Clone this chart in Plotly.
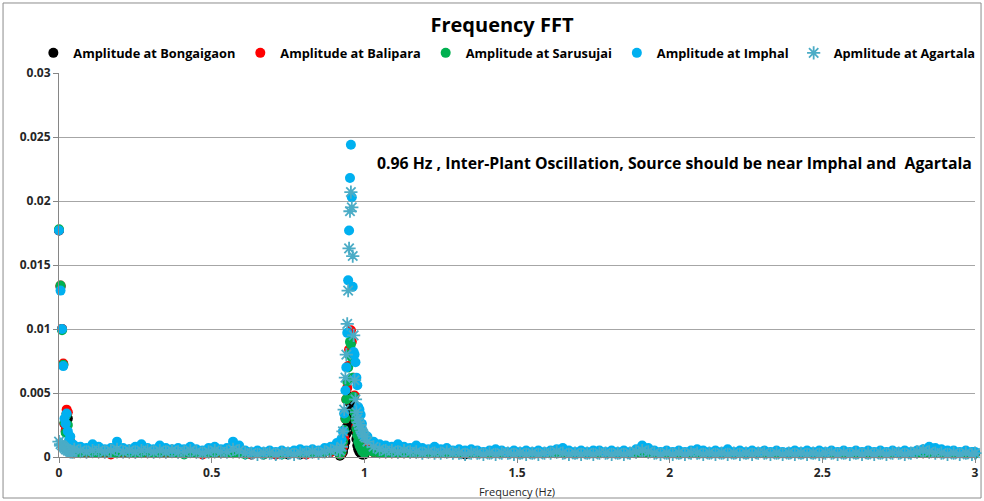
import plotly.graph_objects as go

# ---------------- data ----------------
freq_low = [0.000, 0.005, 0.010, 0.014, 0.018, 0.022, 0.025, 0.029, 0.033, 0.037, 0.041, 0.045]
freq_mid = [0.05, 0.07, 0.09, 0.11, 0.13, 0.15, 0.17, 0.19, 0.21, 0.23,
            0.25, 0.27, 0.29, 0.31, 0.33, 0.35, 0.37, 0.39, 0.41, 0.43,
            0.45, 0.47, 0.49, 0.51, 0.53, 0.55, 0.57, 0.59, 0.61, 0.63,
            0.65, 0.67, 0.69, 0.71, 0.73, 0.75, 0.77, 0.79, 0.81, 0.83,
            0.85, 0.87, 0.89, 0.91]
freq_peak = [0.920, 0.925, 0.930, 0.934, 0.938, 0.941, 0.944, 0.947, 0.950, 0.953,
             0.956, 0.959, 0.962, 0.965, 0.968, 0.971, 0.974, 0.977, 0.980, 0.984,
             0.988, 0.992, 0.996, 1.000]
freq_high = [1.01, 1.03, 1.05, 1.07, 1.09, 1.11, 1.13, 1.15, 1.17, 1.19,
             1.21, 1.23, 1.25, 1.27, 1.29, 1.31, 1.33, 1.35, 1.37, 1.39,
             1.41, 1.43, 1.45, 1.47, 1.49, 1.51, 1.53, 1.55, 1.57, 1.59,
             1.61, 1.63, 1.65, 1.67, 1.69, 1.71, 1.73, 1.75, 1.77, 1.79,
             1.81, 1.83, 1.85, 1.87, 1.89, 1.91, 1.93, 1.95, 1.97, 1.99,
             2.01, 2.03, 2.05, 2.07, 2.09, 2.11, 2.13, 2.15, 2.17, 2.19,
             2.21, 2.23, 2.25, 2.27, 2.29, 2.31, 2.33, 2.35, 2.37, 2.39,
             2.41, 2.43, 2.45, 2.47, 2.49, 2.51, 2.53, 2.55, 2.57, 2.59,
             2.61, 2.63, 2.65, 2.67, 2.69, 2.71, 2.73, 2.75, 2.77, 2.79,
             2.81, 2.83, 2.85, 2.87, 2.89, 2.91, 2.93, 2.95, 2.97, 2.99,
             3.00]
freq = freq_low + freq_mid + freq_peak + freq_high

bongaigaon = (
    [0.0177, 0.0133, 0.0100, 0.0072, 0.0026, 0.0020, 0.0034, 0.0030, 0.0006, 0.0009, 0.0004, 0.0003]
    + [0.0003, 0.0004, 0.0003, 0.0004, 0.0003, 0.0003, 0.0004, 0.0003, 0.0004, 0.0003,
       0.0003, 0.0004, 0.0003, 0.0003, 0.0004, 0.0003, 0.0004, 0.0003, 0.0003, 0.0004,
       0.0003, 0.0003, 0.0004, 0.0003, 0.0003, 0.0004, 0.0003, 0.0003, 0.0003, 0.0002,
       0.0003, 0.0002, 0.0003, 0.0002, 0.0003, 0.0002, 0.0003, 0.0002, 0.0003, 0.0003,
       0.0003, 0.0004, 0.0004, 0.0005]
    + [0.0001, 0.0002, 0.0004, 0.0008, 0.0012, 0.0018, 0.0024, 0.0030, 0.0036, 0.0042,
       0.0047, 0.0045, 0.0040, 0.0033, 0.0027, 0.0020, 0.0014, 0.0009, 0.0006, 0.0004,
       0.0003, 0.0002, 0.0002, 0.0002]
    + [0.0005, 0.0004, 0.0003, 0.0003, 0.0003, 0.0003, 0.0003, 0.0003, 0.0003, 0.0003,
       0.0003, 0.0003, 0.0003, 0.0003, 0.0003, 0.0003, 0.0002, 0.0003, 0.0003, 0.0003,
       0.0003, 0.0003, 0.0003, 0.0003, 0.0003, 0.0003, 0.0003, 0.0003, 0.0003, 0.0003,
       0.0003, 0.0003, 0.0003, 0.0003, 0.0003, 0.0003, 0.0003, 0.0003, 0.0003, 0.0003,
       0.0003, 0.0003, 0.0003, 0.0003, 0.0003, 0.0004, 0.0003, 0.0003, 0.0003, 0.0003,
       0.0003, 0.0003, 0.0003, 0.0003, 0.0003, 0.0003, 0.0003, 0.0003, 0.0003, 0.0003,
       0.0003, 0.0003, 0.0003, 0.0003, 0.0003, 0.0003, 0.0003, 0.0003, 0.0003, 0.0003,
       0.0003, 0.0003, 0.0003, 0.0003, 0.0003, 0.0003, 0.0003, 0.0003, 0.0003, 0.0003,
       0.0003, 0.0003, 0.0003, 0.0003, 0.0003, 0.0003, 0.0003, 0.0003, 0.0003, 0.0003,
       0.0003, 0.0003, 0.0003, 0.0003, 0.0003, 0.0003, 0.0003, 0.0003, 0.0003, 0.0003,
       0.0003]
)

balipara = (
    [0.0177, 0.0134, 0.0100, 0.0073, 0.0026, 0.0021, 0.0037, 0.0035, 0.0007, 0.0012, 0.0006, 0.0005]
    + [0.0003, 0.0004, 0.0003, 0.0004, 0.0003, 0.0003, 0.0002, 0.0004, 0.0003, 0.0003,
       0.0003, 0.0004, 0.0003, 0.0004, 0.0003, 0.0003, 0.0004, 0.0003, 0.0003, 0.0004,
       0.0003, 0.0002, 0.0003, 0.0004, 0.0003, 0.0003, 0.0004, 0.0003, 0.0003, 0.0002,
       0.0003, 0.0003, 0.0003, 0.0002, 0.0003, 0.0003, 0.0003, 0.0003, 0.0002, 0.0003,
       0.0003, 0.0004, 0.0004, 0.0005]
    + [0.0002, 0.0003, 0.0008, 0.0015, 0.0030, 0.0045, 0.0054, 0.0071, 0.0084, 0.0098,
       0.0099, 0.0090, 0.0080, 0.0062, 0.0048, 0.0035, 0.0024, 0.0020, 0.0016, 0.0012,
       0.0009, 0.0007, 0.0005, 0.0004]
    + [0.0006, 0.0004, 0.0004, 0.0003, 0.0003, 0.0003, 0.0003, 0.0003, 0.0003, 0.0003,
       0.0003, 0.0003, 0.0003, 0.0003, 0.0003, 0.0003, 0.0003, 0.0003, 0.0003, 0.0003,
       0.0003, 0.0003, 0.0003, 0.0003, 0.0003, 0.0003, 0.0003, 0.0003, 0.0003, 0.0003,
       0.0003, 0.0003, 0.0003, 0.0003, 0.0003, 0.0003, 0.0003, 0.0003, 0.0003, 0.0003,
       0.0003, 0.0003, 0.0003, 0.0003, 0.0003, 0.0004, 0.0003, 0.0003, 0.0003, 0.0003,
       0.0003, 0.0003, 0.0003, 0.0003, 0.0003, 0.0003, 0.0003, 0.0003, 0.0003, 0.0003,
       0.0003, 0.0003, 0.0003, 0.0003, 0.0003, 0.0003, 0.0003, 0.0003, 0.0003, 0.0003,
       0.0003, 0.0003, 0.0003, 0.0003, 0.0003, 0.0003, 0.0003, 0.0003, 0.0003, 0.0003,
       0.0003, 0.0003, 0.0003, 0.0003, 0.0003, 0.0003, 0.0003, 0.0003, 0.0003, 0.0003,
       0.0003, 0.0003, 0.0003, 0.0003, 0.0003, 0.0003, 0.0003, 0.0003, 0.0003, 0.0003,
       0.0003]
)

sarusujai = (
    [0.0178, 0.0134, 0.0099, 0.0072, 0.0027, 0.0019, 0.0033, 0.0025, 0.0007, 0.0010, 0.0005, 0.0004]
    + [0.0003, 0.0003, 0.0004, 0.0003, 0.0003, 0.0004, 0.0003, 0.0003, 0.0004, 0.0003,
       0.0003, 0.0003, 0.0004, 0.0003, 0.0003, 0.0004, 0.0003, 0.0003, 0.0002, 0.0003,
       0.0003, 0.0003, 0.0003, 0.0003, 0.0004, 0.0003, 0.0003, 0.0003, 0.0002, 0.0003,
       0.0003, 0.0002, 0.0003, 0.0003, 0.0002, 0.0003, 0.0003, 0.0003, 0.0003, 0.0003,
       0.0003, 0.0004, 0.0005, 0.0006]
    + [0.0002, 0.0004, 0.0012, 0.0021, 0.0030, 0.0045, 0.0059, 0.0070, 0.0080, 0.0090,
       0.0088, 0.0078, 0.0062, 0.0047, 0.0035, 0.0029, 0.0022, 0.0017, 0.0012, 0.0009,
       0.0007, 0.0005, 0.0004, 0.0003]
    + [0.0005, 0.0004, 0.0003, 0.0003, 0.0003, 0.0003, 0.0003, 0.0003, 0.0003, 0.0003,
       0.0003, 0.0003, 0.0003, 0.0003, 0.0003, 0.0003, 0.0003, 0.0003, 0.0003, 0.0003,
       0.0003, 0.0003, 0.0003, 0.0003, 0.0003, 0.0003, 0.0003, 0.0003, 0.0003, 0.0003,
       0.0003, 0.0003, 0.0003, 0.0003, 0.0003, 0.0003, 0.0003, 0.0003, 0.0003, 0.0003,
       0.0003, 0.0003, 0.0003, 0.0003, 0.0003, 0.0004, 0.0003, 0.0003, 0.0003, 0.0003,
       0.0003, 0.0003, 0.0003, 0.0003, 0.0003, 0.0003, 0.0003, 0.0003, 0.0003, 0.0003,
       0.0003, 0.0003, 0.0003, 0.0003, 0.0003, 0.0003, 0.0003, 0.0003, 0.0003, 0.0003,
       0.0003, 0.0003, 0.0003, 0.0003, 0.0003, 0.0003, 0.0003, 0.0003, 0.0003, 0.0003,
       0.0003, 0.0003, 0.0003, 0.0003, 0.0003, 0.0003, 0.0003, 0.0003, 0.0003, 0.0003,
       0.0003, 0.0003, 0.0003, 0.0003, 0.0003, 0.0003, 0.0003, 0.0003, 0.0003, 0.0003,
       0.0003]
)

imphal = (
    [0.0177, 0.0130, 0.0100, 0.0071, 0.0030, 0.0026, 0.0034, 0.0020, 0.0013, 0.0016, 0.0009, 0.0010]
    + [0.0009, 0.0008, 0.0007, 0.0010, 0.0008, 0.0006, 0.0007, 0.0012, 0.0007, 0.0006,
       0.0008, 0.0010, 0.0007, 0.0006, 0.0009, 0.0007, 0.0006, 0.0007, 0.0006, 0.0008,
       0.0006, 0.0005, 0.0007, 0.0008, 0.0006, 0.0007, 0.0012, 0.0009, 0.0005, 0.0004,
       0.0005, 0.0004, 0.0005, 0.0004, 0.0005, 0.0004, 0.0005, 0.0006, 0.0005, 0.0006,
       0.0005, 0.0007, 0.0008, 0.0011]
    + [0.0011, 0.0014, 0.0020, 0.0034, 0.0052, 0.0070, 0.0097, 0.0138, 0.0177, 0.0218,
       0.0244, 0.0203, 0.0133, 0.0082, 0.0080, 0.0074, 0.0062, 0.0056, 0.0039, 0.0037,
       0.0033, 0.0026, 0.0019, 0.0016]
    + [0.0016, 0.0012, 0.0010, 0.0009, 0.0008, 0.0010, 0.0008, 0.0007, 0.0009, 0.0007,
       0.0006, 0.0008, 0.0006, 0.0007, 0.0005, 0.0006, 0.0005, 0.0006, 0.0005, 0.0004,
       0.0005, 0.0006, 0.0005, 0.0004, 0.0005, 0.0004, 0.0005, 0.0004, 0.0005, 0.0004,
       0.0005, 0.0006, 0.0007, 0.0005, 0.0004, 0.0005, 0.0004, 0.0005, 0.0005, 0.0004,
       0.0005, 0.0004, 0.0005, 0.0004, 0.0006, 0.0009, 0.0007, 0.0005, 0.0004, 0.0005,
       0.0004, 0.0005, 0.0004, 0.0005, 0.0006, 0.0005, 0.0004, 0.0005, 0.0004, 0.0006,
       0.0004, 0.0005, 0.0004, 0.0005, 0.0004, 0.0005, 0.0004, 0.0005, 0.0004, 0.0004,
       0.0005, 0.0004, 0.0005, 0.0004, 0.0005, 0.0004, 0.0005, 0.0004, 0.0005, 0.0004,
       0.0005, 0.0004, 0.0005, 0.0004, 0.0005, 0.0004, 0.0005, 0.0004, 0.0005, 0.0004,
       0.0005, 0.0006, 0.0008, 0.0007, 0.0006, 0.0005, 0.0005, 0.0004, 0.0005, 0.0004,
       0.0004]
)

agartala = (
    [0.0012, 0.0010, 0.0009, 0.0008, 0.0007, 0.0006, 0.0006, 0.0005, 0.0005, 0.0004, 0.0004, 0.0004]
    + [0.0006, 0.0005, 0.0004, 0.0005, 0.0005, 0.0004, 0.0005, 0.0006, 0.0004, 0.0005,
       0.0004, 0.0005, 0.0005, 0.0004, 0.0005, 0.0004, 0.0005, 0.0004, 0.0004, 0.0005,
       0.0004, 0.0003, 0.0004, 0.0005, 0.0004, 0.0004, 0.0006, 0.0005, 0.0003, 0.0003,
       0.0002, 0.0003, 0.0003, 0.0002, 0.0003, 0.0003, 0.0002, 0.0003, 0.0003, 0.0004,
       0.0003, 0.0004, 0.0005, 0.0006]
    + [0.0005, 0.0008, 0.0020, 0.0037, 0.0062, 0.0080, 0.0104, 0.0130, 0.0163, 0.0192,
       0.0207, 0.0195, 0.0157, 0.0095, 0.0060, 0.0045, 0.0035, 0.0030, 0.0027, 0.0025,
       0.0022, 0.0020, 0.0018, 0.0016]
    + [0.0012, 0.0008, 0.0006, 0.0005, 0.0005, 0.0004, 0.0005, 0.0004, 0.0004, 0.0003,
       0.0004, 0.0003, 0.0003, 0.0004, 0.0003, 0.0003, 0.0002, 0.0003, 0.0003, 0.0002,
       0.0003, 0.0002, 0.0003, 0.0003, 0.0002, 0.0003, 0.0002, 0.0003, 0.0002, 0.0003,
       0.0003, 0.0004, 0.0003, 0.0002, 0.0003, 0.0002, 0.0003, 0.0002, 0.0003, 0.0003,
       0.0002, 0.0003, 0.0002, 0.0003, 0.0004, 0.0005, 0.0004, 0.0003, 0.0002, 0.0003,
       0.0002, 0.0003, 0.0002, 0.0003, 0.0003, 0.0002, 0.0003, 0.0002, 0.0003, 0.0002,
       0.0003, 0.0002, 0.0003, 0.0002, 0.0003, 0.0003, 0.0002, 0.0003, 0.0002, 0.0003,
       0.0002, 0.0003, 0.0002, 0.0003, 0.0002, 0.0003, 0.0003, 0.0002, 0.0003, 0.0002,
       0.0003, 0.0002, 0.0003, 0.0002, 0.0003, 0.0002, 0.0003, 0.0003, 0.0002, 0.0003,
       0.0004, 0.0005, 0.0004, 0.0003, 0.0003, 0.0002, 0.0003, 0.0002, 0.0003, 0.0002,
       0.0003]
)

series_names = ["Amplitude at Bongaigaon", "Amplitude at Balipara", "Amplitude at Sarusujai",
                "Amplitude at Imphal", "Apmlitude at Agartala"]
series_values = [bongaigaon, balipara, sarusujai, imphal, agartala]
series_colors = ["#000000", "#FF0000", "#00B050", "#00B0F0", "#4BACC6"]

title_text = "Frequency FFT"
x_title = "Frequency (Hz)"
note_text = "0.96 Hz , Inter-Plant Oscillation, Source should be near Imphal and  Agartala"
note_pos = (1.035, 0.0230)

# ---------------- figure ----------------
FONT = "Open Sans"
fig = go.Figure()
for name, vals, col in zip(series_names, series_values, series_colors):
    if name.endswith("Agartala"):
        marker = dict(symbol="asterisk-open", size=11, color=col, line=dict(color=col, width=1.8))
    else:
        marker = dict(symbol="circle", size=10, color=col, line=dict(width=0))
    fig.add_trace(go.Scatter(x=freq, y=vals, mode="markers", name=name,
                             marker=marker, cliponaxis=False))

fig.update_layout(
    width=984, height=501,
    margin=dict(l=59, r=9, t=73, b=44, autoexpand=False),
    paper_bgcolor="white", plot_bgcolor="white",
    font=dict(family=FONT, color="#000000"),
    title=dict(text=title_text, x=0.4836, xanchor="center", xref="paper",
               y=1 - 25 / 501, yref="container", yanchor="middle",
               font=dict(family=FONT, size=20, weight="bold", color="#000000")),
    legend=dict(orientation="h", x=-0.028, xanchor="left", y=1.052, yanchor="middle",
                font=dict(family=FONT, size=12.8, weight="bold", color="#000000"),
                itemsizing="trace", bgcolor="rgba(0,0,0,0)"),
    showlegend=True,
)
fig.update_xaxes(range=[0, 3], dtick=0.5, tick0=0, showgrid=False, automargin=False,
                 showline=True, linecolor="#868686", linewidth=1,
                 ticks="outside", ticklen=5, tickcolor="#868686",
                 tickfont=dict(family=FONT, size=12, weight="bold", color="#262626"),
                 zeroline=False,
                 title=dict(text=x_title, standoff=7,
                            font=dict(family=FONT, size=11, color="#262626")))
fig.update_yaxes(range=[0, 0.030001], dtick=0.005, tick0=0, showgrid=True, automargin=False,
                 gridcolor="#A6A6A6", gridwidth=1,
                 showline=True, linecolor="#868686", linewidth=1,
                 ticks="outside", ticklen=5, tickcolor="#868686",
                 tickfont=dict(family=FONT, size=12, weight="bold", color="#262626"),
                 zeroline=False)

fig.add_annotation(x=note_pos[0], y=note_pos[1], xref="x", yref="y",
                   text=note_text, showarrow=False, xanchor="left", yanchor="middle",
                   font=dict(family=FONT, size=15.8, weight="bold", color="#000000"))

fig.add_shape(type="rect", xref="paper", yref="paper",
              x0=-0.0611, x1=1.0066, y0=-0.1068, y1=1.1823,
              line=dict(color="#8C8C8C", width=1), fillcolor="rgba(0,0,0,0)", layer="below")

fig.write_html("out.html", config={"displayModeBar": False},
               post_script="document.body.style.margin='0';document.body.style.overflow='hidden';")
